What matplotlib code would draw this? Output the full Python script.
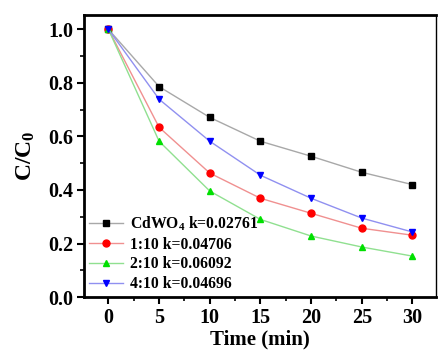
import matplotlib
matplotlib.use("Agg")
import matplotlib.pyplot as plt
from matplotlib.ticker import MultipleLocator, FormatStrFormatter

plt.rcParams['font.family'] = ['Liberation Serif', 'DejaVu Serif']
plt.rcParams['font.weight'] = 'bold'
plt.rcParams['mathtext.fontset'] = 'custom'
plt.rcParams['mathtext.rm'] = 'Liberation Serif:bold'
plt.rcParams['mathtext.bf'] = 'Liberation Serif:bold'
plt.rcParams['mathtext.it'] = 'Liberation Serif:bold'
plt.rcParams['mathtext.default'] = 'bf'

time = [0, 5, 10, 15, 20, 25, 30]
cdwo4 = [1.0, 0.786, 0.671, 0.582, 0.526, 0.466, 0.420]
r1_10 = [1.0, 0.634, 0.463, 0.369, 0.313, 0.257, 0.231]
r2_10 = [1.0, 0.582, 0.396, 0.290, 0.228, 0.187, 0.153]
r4_10 = [1.0, 0.739, 0.582, 0.455, 0.369, 0.295, 0.243]
labels = ["CdWO$_4$ k=0.02761", "1:10 k=0.04706", "2:10 k=0.06092", "4:10 k=0.04696"]

fig = plt.figure(figsize=(4.38, 3.52), dpi=100)
ax = fig.add_axes([0.192, 0.156, 0.803, 0.801])

series = [cdwo4, r1_10, r2_10, r4_10]
mcolors = ['black', '#ff0000', '#00e000', '#0000ff']
lcolors = ['#a8a8a8', '#f09090', '#90e090', '#9090f0']
markers = ['s', 'o', '^', 'v']
for s, mc, lc, mk, lab in zip(series, mcolors, lcolors, markers, labels):
    ax.plot(time, s, color=lc, lw=1.0, marker=mk, markersize=5,
            markerfacecolor=mc, markeredgecolor=mc, label=lab)

ax.set_xlim(-2.4, 32.3)
ax.set_ylim(0.0, 1.053)
ax.xaxis.set_major_locator(MultipleLocator(5))
ax.xaxis.set_minor_locator(MultipleLocator(2.5))
ax.yaxis.set_major_locator(MultipleLocator(0.2))
ax.yaxis.set_minor_locator(MultipleLocator(0.1))
ax.yaxis.set_major_formatter(FormatStrFormatter('%.1f'))
ax.tick_params(which='major', direction='out', length=5, width=1.5, labelsize=14.5, pad=3)
ax.tick_params(which='minor', direction='out', length=3, width=1.2)
ax.tick_params(top=False, right=False)
for sp in ['left', 'bottom', 'top']:
    ax.spines[sp].set_linewidth(2.0)
ax.spines['right'].set_linewidth(1.0)

ax.set_xlabel("Time (min)", fontsize=15, fontweight='bold', labelpad=1)
ax.set_ylabel("C/C$_0$", fontsize=17, fontweight='bold', labelpad=8)

ax.legend(loc='lower left', frameon=False, handlelength=2.2,
          handletextpad=0.4, labelspacing=0.25, borderaxespad=0.0, borderpad=0.3,
          prop={'weight': 'bold', 'size': 11.3})

fig.savefig("out.png", dpi=100)
